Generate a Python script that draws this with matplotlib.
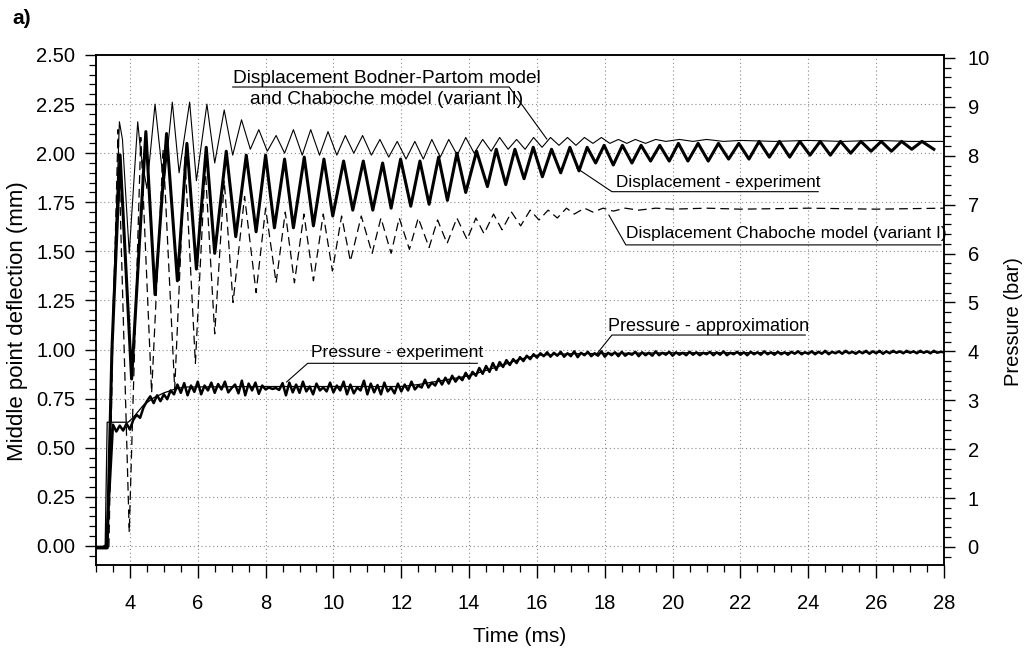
import numpy as np
import matplotlib
matplotlib.use("Agg")
import matplotlib.pyplot as plt
from matplotlib.ticker import MultipleLocator, FormatStrFormatter

plt.rcParams['font.family'] = ['Liberation Sans', 'DejaVu Sans']

# ---------------- data ----------------
# Displacement - experiment (mm), extrema of the oscillation
exp_t = [3.00, 3.33, 3.47, 3.71, 4.05, 4.47, 4.74, 5.08, 5.40, 5.68, 5.96, 6.25, 6.50, 6.84, 7.12,
         7.43, 7.72, 8.00, 8.26, 8.56, 8.82, 9.14, 9.41, 9.72, 9.98, 10.30, 10.57, 10.88, 11.16,
         11.45, 11.70, 11.98, 12.28, 12.55, 12.82, 13.10, 13.36, 13.64, 13.90, 14.22, 14.54, 14.80,
         15.08, 15.35, 15.62, 15.89, 16.16, 16.43, 16.70, 16.97, 17.24, 17.48, 17.73, 17.98, 18.25,
         18.52, 18.80, 19.07, 19.35, 19.62, 19.90, 20.17, 20.45, 20.75, 21.05, 21.35, 21.65, 21.95,
         22.25, 22.55, 22.85, 23.15, 23.45, 23.75, 24.05, 24.35, 24.65, 24.95, 25.25, 25.55, 25.85,
         26.15, 26.45, 26.75, 27.05, 27.35, 27.70]
exp_v = [-0.01, -0.01, 1.00, 1.99, 0.85, 2.11, 1.28, 2.10, 1.35, 2.05, 1.41, 2.03, 1.49, 2.01, 1.575,
         1.99, 1.60, 1.99, 1.62, 1.97, 1.62, 1.98, 1.63, 1.97, 1.68, 1.96, 1.71, 1.96, 1.71,
         1.95, 1.72, 1.97, 1.73, 1.96, 1.74, 1.98, 1.76, 2.00, 1.80, 2.01, 1.83, 2.02,
         1.84, 2.02, 1.87, 2.03, 1.88, 2.02, 1.90, 2.03, 1.91, 2.03, 1.95, 2.04, 1.94,
         2.04, 1.95, 2.04, 1.96, 2.04, 1.96, 2.05, 1.96, 2.05, 1.96, 2.05, 1.97, 2.05,
         1.97, 2.06, 1.98, 2.06, 1.98, 2.06, 1.99, 2.06, 1.99, 2.06, 2.00, 2.06, 2.01,
         2.06, 2.01, 2.06, 2.02, 2.06, 2.02]

# Displacement Bodner-Partom model and Chaboche model (variant II) (mm)
bp_t = [3.00, 3.33, 3.50, 3.69, 3.78, 3.98, 4.23, 4.32, 4.50, 4.74, 5.00, 5.25, 5.45, 5.76, 5.96,
        6.27, 6.50, 6.78, 7.03, 7.29, 7.55, 7.80, 8.05, 8.31, 8.56, 8.82, 9.08, 9.33, 9.59, 9.84,
        10.10, 10.35, 10.60, 10.86, 11.12, 11.37, 11.63, 11.88, 12.14, 12.40, 12.65, 12.90, 13.15,
        13.40, 13.65, 13.90, 14.15, 14.40, 14.65, 14.90, 15.15, 15.40, 15.65, 15.90, 16.15, 16.40,
        16.65, 16.90, 17.15, 17.40, 17.65, 17.90, 18.15, 18.40, 18.65, 18.90, 19.20, 19.50, 19.80,
        20.20, 20.60, 21.00, 21.50, 22.00, 23.00, 24.00, 25.00, 26.00, 27.00, 28.00]
bp_v = [-0.01, -0.01, 1.20, 2.16, 2.07, 1.49, 2.16, 2.00, 1.82, 2.25, 1.83, 2.26, 1.90, 2.26, 1.86,
        2.25, 1.95, 2.22, 1.99, 2.17, 2.02, 2.12, 2.01, 2.09, 2.00, 2.12, 1.99, 2.12, 1.99, 2.11,
        1.99, 2.09, 2.00, 2.09, 1.99, 2.07, 1.98, 2.06, 1.97, 2.06, 1.97, 2.07, 1.98,
        2.07, 1.99, 2.08, 2.00, 2.07, 2.01, 2.08, 2.02, 2.07, 2.02, 2.08, 2.03, 2.08,
        2.04, 2.08, 2.04, 2.08, 2.05, 2.08, 2.05, 2.07, 2.05, 2.07, 2.05, 2.07, 2.06,
        2.07, 2.06, 2.07, 2.06, 2.065, 2.06, 2.065, 2.06, 2.065, 2.06, 2.06]

# Displacement Chaboche model (variant I) (mm)
ch_t = [3.00, 3.38, 3.50, 3.65, 3.98, 4.32, 4.64, 4.98, 5.32, 5.62, 5.93, 6.22, 6.50, 6.78, 7.04,
        7.38, 7.72, 8.00, 8.31, 8.58, 8.85, 9.13, 9.41, 9.70, 9.97, 10.24, 10.50, 10.82, 11.14,
        11.40, 11.70, 11.94, 12.24, 12.50, 12.82, 13.07, 13.35, 13.64, 13.94, 14.20, 14.44, 14.72,
        14.97, 15.25, 15.52, 15.80, 16.06, 16.33, 16.60, 16.87, 17.10, 17.40, 17.65, 17.95, 18.25,
        18.60, 19.00, 19.50, 20.00, 21.00, 22.00, 24.00, 26.00, 28.00]
ch_v = [-0.01, -0.01, 1.10, 2.12, 0.07, 2.08, 0.78, 2.02, 0.80, 1.98, 0.93, 1.93, 1.08, 1.86, 1.24,
        1.78, 1.29, 1.72, 1.34, 1.70, 1.34, 1.69, 1.35, 1.69, 1.40, 1.68, 1.45, 1.68, 1.49,
        1.67, 1.49, 1.67, 1.51, 1.67, 1.52, 1.66, 1.54, 1.67, 1.56, 1.67, 1.59, 1.69,
        1.61, 1.70, 1.63, 1.71, 1.66, 1.71, 1.67, 1.72, 1.69, 1.72, 1.70, 1.72, 1.705,
        1.72, 1.71, 1.72, 1.715, 1.72, 1.715, 1.72, 1.715, 1.72]

# Pressure - approximation (bar)
pa_t = [3.00, 3.27, 3.33, 3.95, 4.10, 4.40, 4.70, 5.00, 5.30, 5.60, 8.00, 12.00, 12.50, 13.00,
        14.00, 15.00, 15.50, 16.00, 17.00, 20.00, 28.00]
pa_v = [0.00, 0.00, 2.55, 2.55, 2.65, 2.90, 3.05, 3.15, 3.22, 3.27, 3.28, 3.28, 3.32, 3.38,
        3.50, 3.72, 3.84, 3.92, 3.95, 3.97, 3.98]

# Pressure - experiment (bar), sampled every 0.1 ms from 3.0 to 28.0 ms
pe_start, pe_step = 3.0, 0.1
pe_v = [0.00, 0.00, 0.00, 0.03, 1.20, 2.50, 2.36, 2.48, 2.38, 2.52,
        2.40, 2.60, 2.70, 2.64, 2.85, 2.98, 3.08, 2.94, 3.10, 2.98,
        3.12, 3.02, 3.20, 3.12, 3.32, 3.15, 3.35, 3.10, 3.30, 3.17,
        3.38, 3.12, 3.30, 3.20, 3.36, 3.15, 3.33, 3.22, 3.38, 3.16,
        3.25, 3.32, 3.14, 3.40, 3.10, 3.34, 3.20, 3.36, 3.13, 3.30,
        3.22, 3.26, 3.23, 3.25, 3.21, 3.35, 3.10, 3.36, 3.16, 3.32,
        3.15, 3.38, 3.18, 3.28, 3.12, 3.34, 3.20, 3.26, 3.18, 3.36,
        3.16, 3.30, 3.20, 3.38, 3.12, 3.32, 3.14, 3.26, 3.20, 3.40,
        3.12, 3.34, 3.16, 3.31, 3.12, 3.36, 3.18, 3.26, 3.14, 3.34,
        3.18, 3.32, 3.20, 3.38, 3.22, 3.30, 3.26, 3.42, 3.26, 3.36,
        3.30, 3.44, 3.32, 3.46, 3.34, 3.50, 3.38, 3.48, 3.41, 3.56,
        3.44, 3.58, 3.50, 3.66, 3.54, 3.70, 3.58, 3.76, 3.62, 3.78,
        3.68, 3.82, 3.72, 3.84, 3.76, 3.88, 3.80, 3.91, 3.84, 3.94,
        3.87, 3.96, 3.90, 3.98, 3.89, 3.97, 3.91, 3.99, 3.89, 3.96,
        3.90, 4.00, 3.88, 3.97, 3.92, 3.99, 3.90, 3.96, 3.91, 4.00,
        3.89, 3.97, 3.92, 3.98, 3.90, 3.99, 3.91, 3.96, 3.93, 3.99,
        3.90, 3.98, 3.92, 3.97, 3.91, 4.00, 3.92, 3.97, 3.93, 3.99,
        3.91, 3.98, 3.93, 3.97, 3.92, 3.99, 3.93, 3.98, 3.92, 3.97,
        3.94, 3.99, 3.92, 3.98, 3.93, 4.00, 3.92, 3.97, 3.94, 3.99,
        3.93, 3.98, 3.92, 3.99, 3.94, 3.98, 3.93, 4.00, 3.94, 3.98,
        3.93, 3.99, 3.94, 3.98, 3.93, 3.99, 3.95, 4.00, 3.94, 3.98,
        3.95, 4.00, 3.94, 3.99, 3.95, 4.01, 3.94, 3.99, 3.96, 4.00,
        3.95, 4.01, 3.96, 3.99, 3.95, 4.00, 3.96, 4.01, 3.95, 4.00,
        3.96, 4.01, 3.95, 4.00, 3.96, 4.01, 3.97, 4.00, 3.96, 4.01,
        3.97, 4.00, 3.96, 4.01, 3.97, 4.00, 3.96, 4.01, 3.97, 3.99,
        3.98]
pe_t = pe_start + pe_step * np.arange(len(pe_v))

# annotation texts
lbl_bp = ["Displacement Bodner-Partom model", "and Chaboche model (variant II)"]
lbl_exp = "Displacement - experiment"
lbl_ch = "Displacement Chaboche model (variant I)"
lbl_pe = "Pressure - experiment"
lbl_pa = "Pressure - approximation"

# ---------------- figure ----------------
W, H = 1031, 650
fig = plt.figure(figsize=(W / 100, H / 100), dpi=100)
ax = fig.add_axes([96 / W, (H - 565) / H, (944 - 96) / W, (565 - 55) / H])
ax2 = ax.twinx()

ax.set_xlim(3.0, 28.0)
ax.set_ylim(-0.097, 2.5)
ax2.set_ylim(-0.37, 10.06)

# grid
ax.set_axisbelow(True)
ax.grid(True, which='major', color='#8a8a8a', linestyle=(0, (1, 2.5)), linewidth=0.8)

# curves
ax.plot(bp_t, bp_v, color='black', lw=0.8, zorder=3)
ax.plot(ch_t, ch_v, color='black', lw=0.9, dashes=(7, 4), zorder=3)
ax.plot(exp_t, exp_v, color='black', lw=2.2, zorder=4)
ax2.plot(pe_t, pe_v, color='black', lw=1.8, zorder=4)
ax2.plot(pa_t, pa_v, color='black', lw=0.9, zorder=5)

# ticks
ax.xaxis.set_major_locator(MultipleLocator(2))
ax.xaxis.set_minor_locator(MultipleLocator(0.5))
ax.yaxis.set_major_locator(MultipleLocator(0.25))
ax.yaxis.set_minor_locator(MultipleLocator(0.05))
ax.yaxis.set_major_formatter(FormatStrFormatter('%.2f'))
ax2.yaxis.set_major_locator(MultipleLocator(1))
ax2.yaxis.set_minor_locator(MultipleLocator(0.2))
ax.set_xticks([4, 6, 8, 10, 12, 14, 16, 18, 20, 22, 24, 26, 28])

ax.tick_params(axis='x', which='major', direction='out', length=9, width=1.0, labelsize=14.5, pad=12)
ax.tick_params(axis='x', which='minor', direction='out', length=5, width=0.9)
ax.tick_params(axis='y', which='major', direction='out', length=8, width=1.0, labelsize=14.5, pad=7)
ax.tick_params(axis='y', which='minor', direction='out', length=5, width=0.9)
ax2.tick_params(axis='y', which='major', direction='out', length=8, width=1.0, labelsize=14.5, pad=9)
ax2.tick_params(axis='y', which='minor', direction='out', length=5, width=0.9)

for a in (ax, ax2):
    for s in a.spines.values():
        s.set_linewidth(1.1)

ax.set_xlabel("Time (ms)", fontsize=15, labelpad=10)
ax.set_ylabel("Middle point deflection (mm)", fontsize=16)
ax.yaxis.set_label_coords(-0.0805, 0.478)
ax2.set_ylabel("Pressure (bar)", fontsize=14.5)
ax2.yaxis.set_label_coords(1.071, 0.478)

fig.text(12 / W, 1 - 18 / H, "a)", fontsize=15, fontweight='bold', va='center', ha='left')

# ---------------- annotations ----------------
lk = dict(color='black', lw=0.8, zorder=6)

# Bodner-Partom / Chaboche II
ax.text(11.58, 2.355, lbl_bp[0], fontsize=13.8, ha='center', va='baseline')
ax.text(11.58, 2.253, lbl_bp[1], fontsize=13.8, ha='center', va='baseline')
ax.plot([7.03, 15.18, 16.29], [2.337, 2.337, 2.072], **lk)

# Displacement - experiment
ax.text(18.32, 1.828, lbl_exp, fontsize=12.3, ha='left', va='baseline')
ax.plot([17.18, 18.21, 24.29], [1.923, 1.804, 1.804], **lk)

# Displacement Chaboche (variant I)
ax.text(18.62, 1.568, lbl_ch, fontsize=12.5, ha='left', va='baseline')
ax.plot([18.12, 18.62, 27.91], [1.685, 1.533, 1.533], **lk)

# Pressure - experiment
ax.text(9.35, 0.962, lbl_pe, fontsize=12.6, ha='left', va='baseline')
ax.plot([8.62, 9.24, 14.24], [0.835, 0.930, 0.930], **lk)

# Pressure - approximation
ax.text(18.1, 1.095, lbl_pa, fontsize=13, ha='left', va='baseline')
ax.plot([17.74, 18.21, 23.91], [0.9725, 1.074, 1.074], **lk)

fig.savefig("out.png", dpi=100)
